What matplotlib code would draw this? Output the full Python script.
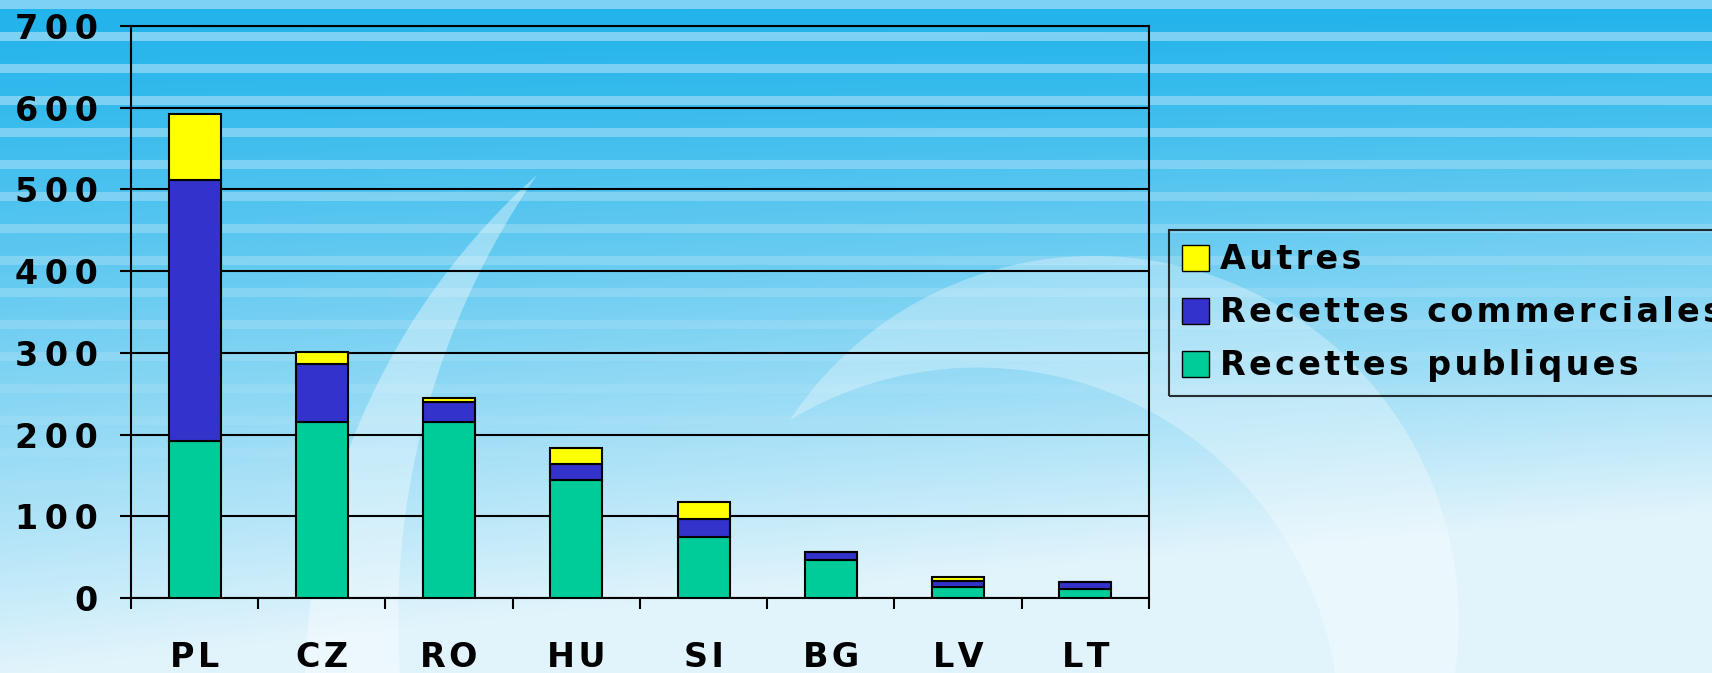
import numpy as np
import matplotlib
matplotlib.use("Agg")
import matplotlib.pyplot as plt
from matplotlib.patches import Patch, Polygon

# data
countries = ["PL", "CZ", "RO", "HU", "SI", "BG", "LV", "LT"]
recettes_publiques = [192, 215, 215, 144, 75, 46, 14, 11]
recettes_commerciales = [320, 71, 25, 20, 22, 10, 7, 8]
autres = [80, 15, 5, 20, 20, 0, 5, 0]
y_ticks = [0, 100, 200, 300, 400, 500, 600, 700]

col_pub = "#00cc99"
col_com = "#3333cc"
col_aut = "#ffff00"

fam = ["DejaVu Sans"]


def spaced(s, gap="\u200a"):
    # the original uses wide letter spacing
    return gap.join(s)


def arc_pts(p0, p1, p2, n=120):
    # points on the circle through p0, p1, p2 going from p0 to p2 via p1
    (x0, y0), (x1, y1), (x2, y2) = p0, p1, p2
    A = np.array([[x1 - x0, y1 - y0], [x2 - x1, y2 - y1]]) * 2
    b = np.array([x1**2 - x0**2 + y1**2 - y0**2, x2**2 - x1**2 + y2**2 - y1**2])
    cx, cy = np.linalg.solve(A, b)
    r = np.hypot(x0 - cx, y0 - cy)
    a0, a1, a2 = [np.arctan2(y - cy, x - cx) for x, y in (p0, p1, p2)]
    d1 = (a1 - a0) % (2 * np.pi)
    d2 = (a2 - a0) % (2 * np.pi)
    if d1 < d2:
        ang = a0 + np.linspace(0, d2, n)
    else:
        ang = a0 - np.linspace(0, 2 * np.pi - d2, n)
    return np.column_stack([cx + r * np.cos(ang), cy + r * np.sin(ang)])


W, H = 1712, 673
fig = plt.figure(figsize=(W / 100, H / 100), dpi=100)

# background: blue gradient with light horizontal stripes
bg = fig.add_axes([0, 0, 1, 1], zorder=-10)
yy, xx = np.mgrid[0:H, 0:W]
t = yy / H
s = xx / W
top = np.array([22, 176, 234]) / 255
bot = np.array([225, 244, 252]) / 255
mix = np.clip(0.05 + 0.95 * t ** 1.2 + 0.35 * s * t, 0, 1)[..., None]
img = top * (1 - mix) + bot * mix
light = np.array([185, 228, 247]) / 255
amt = 0.65 * np.clip(1 - mix * 1.1, 0, 1)
stripe = ((yy % 32) < 9).astype(float)[..., None]
img = img * (1 - stripe * amt) + light * stripe * amt
img = np.clip(img, 0, 1)
bg.imshow(img, extent=[0, W, H, 0], aspect="auto")

# white swooshes of the slide background
left_edge = arc_pts((537, 175), (362, 417), (305, 673))
right_edge = arc_pts((537, 175), (425, 417), (400, 673))
bg.add_patch(Polygon(np.vstack([left_edge, right_edge[::-1]]), closed=True,
                     color="white", alpha=0.38, lw=0))
outer = arc_pts((790, 420), (1095, 256), (1455, 673))
inner = arc_pts((790, 420), (995, 368), (1335, 673))
bg.add_patch(Polygon(np.vstack([outer, inner[::-1]]), closed=True,
                     color="white", alpha=0.3, lw=0))
bg.set_xlim(0, W)
bg.set_ylim(H, 0)
bg.axis("off")

ax = fig.add_axes([131 / W, 75 / H, 1018 / W, 572 / H])
ax.patch.set_alpha(0)

x = np.arange(len(countries))
bw = 0.41
bottom2 = np.array(recettes_publiques)
bottom3 = bottom2 + np.array(recettes_commerciales)
ax.bar(x, recettes_publiques, bw, color=col_pub, edgecolor="black", linewidth=1.5, zorder=3)
ax.bar(x, recettes_commerciales, bw, bottom=bottom2, color=col_com, edgecolor="black", linewidth=1.5, zorder=3)
ax.bar(x, autres, bw, bottom=bottom3, color=col_aut, edgecolor="black", linewidth=1.5, zorder=3)

ax.set_xlim(-0.5, len(countries) - 0.5)
ax.set_ylim(0, 700)
ax.set_yticks(y_ticks)
ax.set_yticklabels([spaced(str(v), "\u2009") for v in y_ticks],
                   fontsize=24, fontweight="bold", family=fam)
ax.grid(axis="y", color="black", linewidth=1.5, zorder=1)
ax.set_axisbelow(True)

ax.set_xticks(np.arange(len(countries) + 1) - 0.5)
ax.set_xticklabels([])
ax.set_xticks(x, minor=True)
ax.set_xticklabels([spaced(c) for c in countries], minor=True,
                   fontsize=24, fontweight="bold", family=fam)
ax.tick_params(axis="x", which="minor", length=0, pad=31)
ax.tick_params(axis="x", which="major", length=8, width=1.5, direction="out")
ax.tick_params(axis="y", length=8, width=1.5, direction="out", pad=16)
for sp in ax.spines.values():
    sp.set_linewidth(1.5)
    sp.set_color("black")

handles = [
    Patch(facecolor=col_aut, edgecolor="black", label=spaced("Autres")),
    Patch(facecolor=col_com, edgecolor="black", label=spaced("Recettes commerciales")),
    Patch(facecolor=col_pub, edgecolor="black", label=spaced("Recettes publiques")),
]
leg = fig.legend(handles=handles, loc="upper left", bbox_to_anchor=(1169 / W, 1 - 230 / H),
                 frameon=True, fancybox=False, facecolor="none", edgecolor="black",
                 prop={"family": fam, "weight": "bold", "size": 24},
                 handlelength=0.8, handleheight=0.8, handletextpad=0.33,
                 labelspacing=0.6, borderpad=0.4, borderaxespad=0)
leg.get_frame().set_linewidth(1.5)

fig.savefig("out.png", dpi=100)
